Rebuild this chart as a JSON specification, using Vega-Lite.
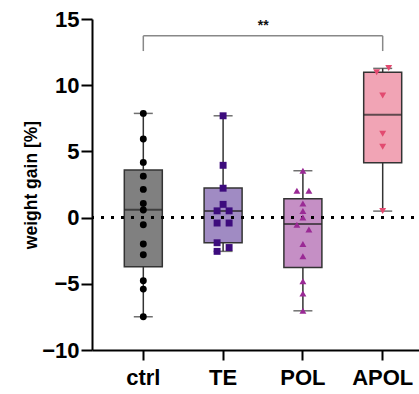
{
  "$schema": "https://vega.github.io/schema/vega-lite/v6.json",
  "width": 342,
  "height": 331,
  "autosize": {"type": "none"},
  "padding": {"left": 92, "top": 19, "right": 0, "bottom": 44},
  "config": {
    "view": {"stroke": null},
    "font": "Liberation Sans",
    "axis": {"grid": false, "domainColor": "black", "tickColor": "black", "labelColor": "black", "titleColor": "black"},
    "axisY": {"titleFontSize": 17.5, "titleFontWeight": "bold", "titlePadding": 1, "labelFontSize": 22, "labelFontWeight": "bold", "labelPadding": 2, "tickSize": 11, "tickWidth": 2, "domainWidth": 2},
    "axisX": {"labelFontSize": 22, "labelFontWeight": "bold", "labelPadding": 7, "tickSize": 10, "tickWidth": 2, "domainWidth": 2, "labelAngle": 0}
  },
  "datasets": {
    "points": [
      {"group": "ctrl", "value": 7.87, "lane": "C"},
      {"group": "ctrl", "value": 5.93, "lane": "C"},
      {"group": "ctrl", "value": 4.17, "lane": "C"},
      {"group": "ctrl", "value": 3.13, "lane": "C"},
      {"group": "ctrl", "value": 2.13, "lane": "C"},
      {"group": "ctrl", "value": 1.07, "lane": "C"},
      {"group": "ctrl", "value": 0.57, "lane": "C"},
      {"group": "ctrl", "value": -0.54, "lane": "C"},
      {"group": "ctrl", "value": -2.0, "lane": "C"},
      {"group": "ctrl", "value": -2.8, "lane": "C"},
      {"group": "ctrl", "value": -4.77, "lane": "C"},
      {"group": "ctrl", "value": -5.4, "lane": "C"},
      {"group": "ctrl", "value": -7.49, "lane": "C"},
      {"group": "TE", "value": 7.69, "lane": "C"},
      {"group": "TE", "value": 3.95, "lane": "C"},
      {"group": "TE", "value": 2.22, "lane": "C"},
      {"group": "TE", "value": 1.0, "lane": "C"},
      {"group": "TE", "value": 0.51, "lane": "L"},
      {"group": "TE", "value": 0.51, "lane": "R"},
      {"group": "TE", "value": -0.41, "lane": "L"},
      {"group": "TE", "value": -0.41, "lane": "R"},
      {"group": "TE", "value": -1.9, "lane": "L"},
      {"group": "TE", "value": -2.26, "lane": "R"},
      {"group": "TE", "value": -2.55, "lane": "L"},
      {"group": "POL", "value": 3.54, "lane": "C"},
      {"group": "POL", "value": 2.02, "lane": "L"},
      {"group": "POL", "value": 2.02, "lane": "R"},
      {"group": "POL", "value": 1.07, "lane": "C"},
      {"group": "POL", "value": 0.49, "lane": "C"},
      {"group": "POL", "value": 0.01, "lane": "C"},
      {"group": "POL", "value": -0.54, "lane": "L"},
      {"group": "POL", "value": -0.89, "lane": "R"},
      {"group": "POL", "value": -2.0, "lane": "C"},
      {"group": "POL", "value": -2.91, "lane": "C"},
      {"group": "POL", "value": -4.8, "lane": "C"},
      {"group": "POL", "value": -5.73, "lane": "C"},
      {"group": "POL", "value": -7.04, "lane": "C"},
      {"group": "APOL", "value": 11.3, "lane": "R"},
      {"group": "APOL", "value": 10.97, "lane": "L"},
      {"group": "APOL", "value": 9.23, "lane": "C"},
      {"group": "APOL", "value": 6.33, "lane": "C"},
      {"group": "APOL", "value": 5.35, "lane": "C"},
      {"group": "APOL", "value": 0.49, "lane": "C"}
    ],
    "summary": [
      {"group": "ctrl", "min": -7.49, "q1": -3.71, "median": 0.59, "q3": 3.59, "max": 7.87},
      {"group": "TE", "min": -2.55, "q1": -1.9, "median": 0.49, "q3": 2.23, "max": 7.69},
      {"group": "POL", "min": -7.04, "q1": -3.76, "median": -0.49, "q3": 1.42, "max": 3.54},
      {"group": "APOL", "min": 0.49, "q1": 4.14, "median": 7.77, "q3": 10.97, "max": 11.27}
    ],
    "sig": [
      {"from": "ctrl", "to": "APOL", "y": 13.73, "ylow": 12.58, "ystar": 14.5, "label": "**"}
    ]
  },
  "encoding": {
    "x": {
      "field": "group",
      "type": "nominal",
      "sort": ["ctrl", "TE", "POL", "APOL"],
      "scale": {"domain": ["ctrl", "TE", "POL", "APOL"], "paddingInner": 0.774, "paddingOuter": 0.53},
      "axis": {"title": null}
    }
  },
  "layer": [
    {
      "data": {"name": "summary"},
      "mark": {"type": "rule", "color": "#333333", "strokeWidth": 1.5},
      "encoding": {
        "y": {
          "field": "min",
          "type": "quantitative",
          "scale": {"domain": [-10, 15], "nice": false, "zero": false},
          "axis": {"values": [-10, -5, 0, 5, 10, 15], "title": "weight gain [%]"}
        },
        "y2": {"field": "max"}
      }
    },
    {
      "data": {"name": "summary"},
      "mark": {"type": "tick", "size": 19, "thickness": 1.5, "color": "#333333"},
      "encoding": {"y": {"field": "min", "type": "quantitative"}}
    },
    {
      "data": {"name": "summary"},
      "mark": {"type": "tick", "size": 19, "thickness": 1.5, "color": "#333333"},
      "encoding": {"y": {"field": "max", "type": "quantitative"}}
    },
    {
      "data": {"name": "summary"},
      "mark": {"type": "bar", "size": 38, "stroke": "#333333", "strokeWidth": 1.5},
      "encoding": {
        "y": {"field": "q1", "type": "quantitative"},
        "y2": {"field": "q3"},
        "fill": {
          "field": "group",
          "type": "nominal",
          "scale": {"domain": ["ctrl", "TE", "POL", "APOL"], "range": ["#808080", "#a08bc3", "#c58fc5", "#f1a4b5"]},
          "legend": null
        }
      }
    },
    {
      "data": {"name": "summary"},
      "mark": {"type": "tick", "size": 38, "thickness": 2, "color": "#222222"},
      "encoding": {"y": {"field": "median", "type": "quantitative"}}
    },
    {
      "data": {"values": [{}]},
      "mark": {"type": "rule", "strokeDash": [3, 7], "strokeWidth": 3, "color": "black"},
      "encoding": {"x": null, "y": {"datum": 0}}
    },
    {
      "data": {"name": "points"},
      "mark": {"type": "point", "filled": true, "opacity": 1, "size": 48},
      "encoding": {
        "xOffset": {"field": "lane", "type": "nominal", "scale": {"domain": ["L", "C", "R"]}},
        "y": {"field": "value", "type": "quantitative"},
        "shape": {
          "field": "group",
          "type": "nominal",
          "scale": {"domain": ["ctrl", "TE", "POL", "APOL"], "range": ["circle", "square", "triangle-up", "triangle-down"]},
          "legend": null
        },
        "color": {
          "field": "group",
          "type": "nominal",
          "scale": {"domain": ["ctrl", "TE", "POL", "APOL"], "range": ["#000000", "#3d0c7d", "#9a2a95", "#e24a70"]},
          "legend": null
        }
      }
    },
    {
      "data": {"name": "sig"},
      "mark": {"type": "rule", "color": "#888888", "strokeWidth": 1.5},
      "encoding": {
        "x": {"field": "from", "type": "nominal"},
        "x2": {"field": "to"},
        "y": {"field": "y", "type": "quantitative"}
      }
    },
    {
      "data": {"name": "sig"},
      "mark": {"type": "rule", "color": "#888888", "strokeWidth": 1.5},
      "encoding": {
        "x": {"field": "from", "type": "nominal"},
        "y": {"field": "y", "type": "quantitative"},
        "y2": {"field": "ylow"}
      }
    },
    {
      "data": {"name": "sig"},
      "mark": {"type": "rule", "color": "#888888", "strokeWidth": 1.5},
      "encoding": {
        "x": {"field": "to", "type": "nominal"},
        "y": {"field": "y", "type": "quantitative"},
        "y2": {"field": "ylow"}
      }
    },
    {
      "data": {"name": "sig"},
      "mark": {"type": "text", "dx": 120, "fontSize": 14, "fontWeight": "bold", "color": "#111111"},
      "encoding": {
        "x": {"field": "from", "type": "nominal"},
        "y": {"field": "ystar", "type": "quantitative"},
        "text": {"field": "label"}
      }
    }
  ]
}
